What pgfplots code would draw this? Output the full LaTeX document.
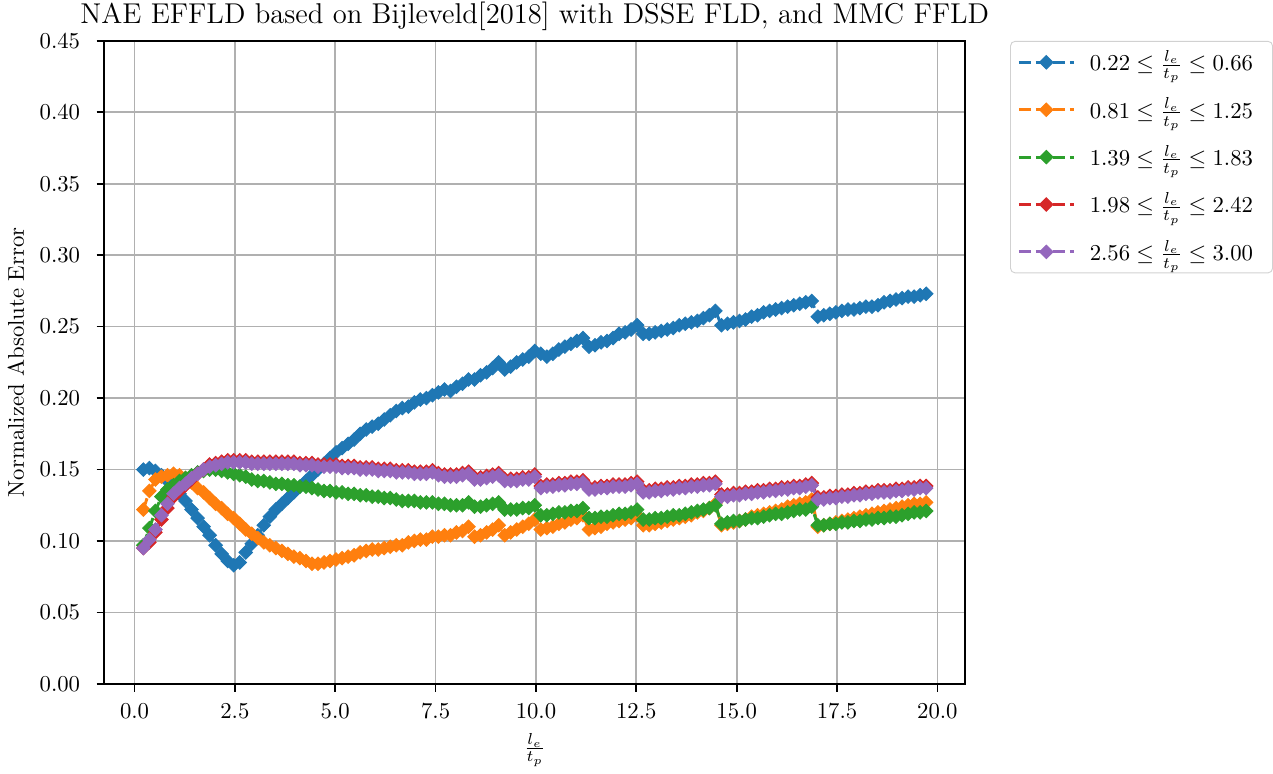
\documentclass[border=0pt]{standalone}
\usepackage{pgfplots}
\pgfplotsset{compat=1.18}
\usepackage{pgfplotstable}

\definecolor{tabblue}{HTML}{1F77B4}
\definecolor{taborange}{HTML}{FF7F0E}
\definecolor{tabgreen}{HTML}{2CA02C}
\definecolor{tabred}{HTML}{D62728}
\definecolor{tabpurple}{HTML}{9467BD}

% x = l_e/t_p ; one column per group: b, o, g, r, p
\pgfplotstableread{
x     b     o     g     r      p
0.22  0.150 0.122 0.097 0.0950 0.095
0.37  0.151 0.135 0.109 0.0990 0.101
0.52  0.149 0.143 0.121 0.1060 0.108
0.67  0.146 0.145 0.131 0.1150 0.118
0.82  0.142 0.146 0.136 0.1230 0.126
0.97  0.138 0.147 0.139 0.1310 0.133
1.12  0.133 0.146 0.142 0.1350 0.137
1.27  0.128 0.144 0.144 0.1390 0.140
1.42  0.122 0.141 0.146 0.1430 0.144
1.57  0.116 0.137 0.148 0.1470 0.147
1.72  0.110 0.134 0.149 0.1500 0.150
1.87  0.104 0.130 0.150 0.1535 0.152
2.02  0.097 0.126 0.150 0.1545 0.153
2.17  0.091 0.123 0.149 0.1555 0.154
2.32  0.086 0.119 0.148 0.1565 0.155
2.47  0.083 0.116 0.147 0.1565 0.155
2.62  0.085 0.112 0.146 0.1565 0.155
2.77  0.092 0.108 0.145 0.1565 0.155
2.92  0.098 0.105 0.143 0.1555 0.154
3.07  0.104 0.102 0.142 0.1555 0.154
3.22  0.111 0.099 0.142 0.1555 0.154
3.37  0.117 0.097 0.141 0.1555 0.154
3.52  0.122 0.095 0.140 0.1555 0.154
3.67  0.126 0.093 0.140 0.1555 0.154
3.82  0.130 0.091 0.139 0.1555 0.154
3.97  0.134 0.089 0.139 0.1555 0.154
4.12  0.138 0.088 0.138 0.1545 0.153
4.27  0.142 0.086 0.138 0.1545 0.153
4.42  0.146 0.084 0.137 0.1545 0.153
4.57  0.150 0.084 0.136 0.1535 0.152
4.72  0.154 0.085 0.135 0.1535 0.152
4.87  0.158 0.086 0.135 0.1535 0.152
5.02  0.162 0.087 0.134 0.1535 0.152
5.17  0.165 0.088 0.134 0.1525 0.151
5.32  0.168 0.089 0.133 0.1525 0.151
5.47  0.171 0.090 0.133 0.1525 0.151
5.62  0.175 0.092 0.132 0.1515 0.150
5.77  0.178 0.093 0.132 0.1515 0.150
5.92  0.180 0.094 0.131 0.1515 0.150
6.07  0.182 0.094 0.131 0.1505 0.149
6.22  0.185 0.095 0.130 0.1505 0.149
6.37  0.188 0.096 0.130 0.1505 0.149
6.52  0.191 0.097 0.129 0.1495 0.148
6.67  0.193 0.097 0.128 0.1495 0.148
6.82  0.194 0.099 0.128 0.1495 0.148
6.97  0.197 0.100 0.128 0.1485 0.147
7.12  0.199 0.101 0.127 0.1485 0.147
7.27  0.200 0.101 0.127 0.1485 0.147
7.42  0.202 0.103 0.127 0.1495 0.148
7.57  0.204 0.103 0.126 0.1475 0.146
7.72  0.206 0.104 0.126 0.1465 0.145
7.87  0.205 0.104 0.125 0.1465 0.145
8.02  0.208 0.106 0.125 0.1465 0.145
8.17  0.210 0.107 0.125 0.1475 0.146
8.32  0.213 0.110 0.127 0.1485 0.147
8.47  0.213 0.103 0.124 0.1445 0.143
8.62  0.216 0.104 0.124 0.1445 0.143
8.77  0.218 0.106 0.125 0.1455 0.144
8.92  0.221 0.108 0.126 0.1465 0.145
9.07  0.225 0.111 0.127 0.1475 0.146
9.22  0.220 0.104 0.122 0.1435 0.142
9.37  0.222 0.106 0.122 0.1435 0.142
9.52  0.225 0.108 0.122 0.1435 0.142
9.67  0.227 0.110 0.123 0.1445 0.143
9.82  0.229 0.112 0.123 0.1445 0.143
9.97  0.233 0.115 0.125 0.1465 0.145
10.12 0.231 0.108 0.118 0.1385 0.137
10.27 0.229 0.109 0.118 0.1395 0.138
10.42 0.231 0.110 0.119 0.1395 0.138
10.57 0.234 0.112 0.120 0.1405 0.139
10.72 0.236 0.113 0.120 0.1405 0.139
10.87 0.238 0.115 0.121 0.1415 0.140
11.02 0.240 0.116 0.121 0.1415 0.140
11.17 0.242 0.118 0.123 0.1425 0.141
11.32 0.236 0.108 0.116 0.1375 0.136
11.47 0.237 0.109 0.116 0.1375 0.136
11.62 0.239 0.110 0.117 0.1385 0.137
11.77 0.240 0.112 0.117 0.1385 0.137
11.92 0.242 0.113 0.118 0.1395 0.138
12.07 0.245 0.114 0.119 0.1395 0.138
12.22 0.246 0.115 0.119 0.1395 0.138
12.37 0.248 0.116 0.120 0.1405 0.139
12.52 0.251 0.118 0.122 0.1415 0.140
12.67 0.245 0.111 0.115 0.1355 0.134
12.82 0.245 0.111 0.115 0.1355 0.134
12.97 0.246 0.112 0.116 0.1365 0.135
13.12 0.247 0.113 0.116 0.1365 0.135
13.27 0.248 0.114 0.117 0.1375 0.136
13.42 0.249 0.115 0.118 0.1375 0.136
13.57 0.251 0.116 0.118 0.1385 0.137
13.72 0.252 0.117 0.119 0.1385 0.137
13.87 0.253 0.118 0.120 0.1395 0.138
14.02 0.254 0.120 0.121 0.1395 0.138
14.17 0.256 0.121 0.122 0.1405 0.139
14.32 0.258 0.123 0.123 0.1405 0.139
14.47 0.261 0.126 0.125 0.1415 0.140
14.62 0.251 0.111 0.112 0.1325 0.131
14.77 0.252 0.112 0.113 0.1325 0.131
14.92 0.253 0.113 0.114 0.1335 0.132
15.07 0.254 0.114 0.114 0.1335 0.132
15.22 0.255 0.115 0.115 0.1345 0.133
15.37 0.257 0.117 0.116 0.1345 0.133
15.52 0.258 0.118 0.116 0.1355 0.134
15.67 0.260 0.119 0.117 0.1355 0.134
15.82 0.261 0.120 0.118 0.1365 0.135
15.97 0.262 0.121 0.119 0.1365 0.135
16.12 0.263 0.122 0.119 0.1375 0.136
16.27 0.264 0.124 0.120 0.1375 0.136
16.42 0.265 0.125 0.121 0.1385 0.137
16.57 0.266 0.126 0.122 0.1385 0.137
16.72 0.267 0.127 0.122 0.1395 0.138
16.87 0.268 0.129 0.124 0.1405 0.139
17.02 0.257 0.110 0.111 0.1305 0.129
17.17 0.258 0.111 0.111 0.1305 0.129
17.32 0.259 0.112 0.112 0.1315 0.130
17.47 0.260 0.113 0.112 0.1315 0.130
17.62 0.261 0.114 0.113 0.1325 0.131
17.77 0.262 0.115 0.113 0.1325 0.131
17.92 0.262 0.116 0.114 0.1335 0.132
18.07 0.263 0.117 0.114 0.1335 0.132
18.22 0.264 0.118 0.115 0.1345 0.133
18.37 0.264 0.119 0.115 0.1345 0.133
18.52 0.265 0.120 0.116 0.1355 0.134
18.67 0.267 0.121 0.116 0.1355 0.134
18.82 0.268 0.122 0.117 0.1355 0.134
18.97 0.269 0.123 0.117 0.1365 0.135
19.12 0.270 0.124 0.118 0.1365 0.135
19.27 0.271 0.125 0.119 0.1375 0.136
19.42 0.271 0.126 0.120 0.1375 0.136
19.57 0.272 0.126 0.120 0.1385 0.137
19.72 0.273 0.127 0.121 0.1385 0.137
}\naedata

\begin{document}
\begin{tikzpicture}
\begin{axis}[
    scale only axis,
    width=379pt, height=283pt,
    xmin=-0.755, xmax=20.695,
    ymin=0, ymax=0.45,
    xtick={0,2.5,5,7.5,10,12.5,15,17.5,20},
    ytick={0,0.05,0.1,0.15,0.2,0.25,0.3,0.35,0.4,0.45},
    x tick label style={/pgf/number format/.cd, fixed, fixed zerofill, precision=1},
    y tick label style={/pgf/number format/.cd, fixed, fixed zerofill, precision=2},
    xticklabel shift=1.7pt,
    yticklabel shift=3.7pt,
    tick align=outside,
    xtick pos=left, ytick pos=left,
    major tick length=3.4pt,
    tick style={black, line width=0.75pt},
    grid=major,
    grid style={color=black!31, line width=0.75pt},
    axis line style={line width=0.75pt},
    title={NAE EFFLD based on Bijleveld[2018] with DSSE FLD, and MMC FFLD},
    title style={font=\fontsize{12.6}{15}\selectfont, inner ysep=1pt, yshift=-2.8pt},
    xlabel={$\frac{l_e}{t_p}$},
    ylabel={Normalized Absolute Error},
    legend style={at={(1.052,1.0)}, anchor=north west, draw=black!18,
        rounded corners=2pt, row sep=6.4pt, inner xsep=3pt, inner ysep=2pt,
        font=\normalsize},
    legend cell align=left,
    legend image code/.code={
        \draw[mark repeat=2, mark phase=2] plot coordinates {(0cm,0cm) (0.425cm,0cm) (0.85cm,0cm)};
    },
    every axis plot/.append style={line width=1.3pt, dash pattern=on 5.2pt off 2.3pt,
        mark=square*, mark size=2.1pt, mark options={rotate=45, solid, line width=0.4pt}},
]
\addplot[tabblue] table[x=x, y=b] {\naedata};
\addplot[taborange] table[x=x, y=o] {\naedata};
\addplot[tabgreen] table[x=x, y=g] {\naedata};
\addplot[tabred] table[x=x, y=r] {\naedata};
\addplot[tabpurple] table[x=x, y=p] {\naedata};
\legend{
    \hspace*{4.4pt}$0.22 \leq \frac{l_e}{t_p} \leq 0.66$\hspace*{3.6pt},
    \hspace*{4.4pt}$0.81 \leq \frac{l_e}{t_p} \leq 1.25$\hspace*{3.6pt},
    \hspace*{4.4pt}$1.39 \leq \frac{l_e}{t_p} \leq 1.83$\hspace*{3.6pt},
    \hspace*{4.4pt}$1.98 \leq \frac{l_e}{t_p} \leq 2.42$\hspace*{3.6pt},
    \hspace*{4.4pt}$2.56 \leq \frac{l_e}{t_p} \leq 3.00$\hspace*{3.6pt}}
\end{axis}
\end{tikzpicture}
\end{document}
